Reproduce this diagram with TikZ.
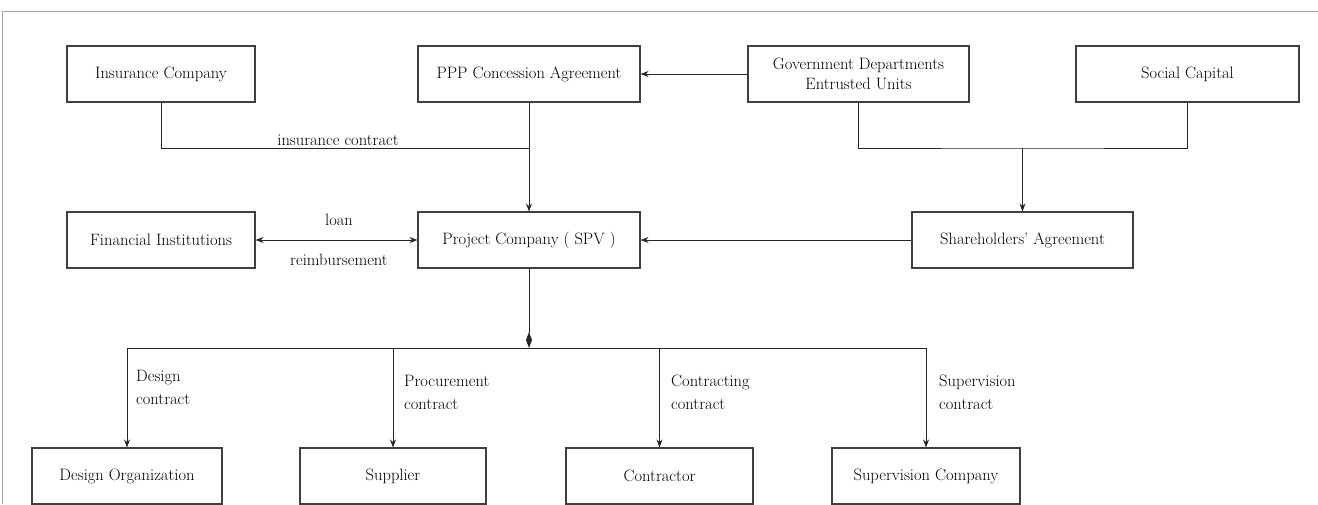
\documentclass[tikz,border=0pt]{standalone}
\usetikzlibrary{arrows.meta}
\begin{document}
\begin{tikzpicture}[x=1pt,y=-1pt,
  box/.style={draw=black!75,line width=1.1pt,rectangle,inner sep=0pt,align=center,font=\fontsize{16.5}{20}\selectfont,text=black},
  conn/.style={draw=black!85,line width=1pt},
  arr/.style={conn,-{Stealth[length=8pt,width=6pt]}},
  lab/.style={font=\fontsize{16.5}{23}\selectfont,text=black,inner sep=0pt},
  llab/.style={lab,align=left,anchor=north west}]
\useasboundingbox (0,0) rectangle (1318,504);
\draw[black!35,line width=1pt] (2,504) -- (2,11) -- (1318,11);
% top row
\node[box,minimum width=188pt,minimum height=56pt] (ins) at (161,74) {Insurance Company};
\node[box,minimum width=222pt,minimum height=56pt] (ppp) at (529,74) {PPP Concession Agreement};
\node[box,minimum width=221pt,minimum height=56pt] (gov) at (858.5,74) {Government Departments\\Entrusted Units};
\node[box,minimum width=223pt,minimum height=56pt] (soc) at (1187.5,74) {Social Capital};
% middle row
\node[box,minimum width=188pt,minimum height=56pt] (fin) at (161,240) {Financial Institutions};
\node[box,minimum width=222pt,minimum height=56pt] (spv) at (529,240) {Project Company ( SPV )};
\node[box,minimum width=221pt,minimum height=56pt] (sha) at (1022.5,240) {Shareholders' Agreement};
% bottom row
\node[box,minimum width=190pt,minimum height=56pt] (des) at (127,476) {Design Organization};
\node[box,minimum width=186pt,minimum height=56pt] (sup) at (393,476) {Supplier};
\node[box,minimum width=187pt,minimum height=56pt] (con) at (659.5,476) {Contractor};
\node[box,minimum width=188pt,minimum height=56pt] (svc) at (926,476) {Supervision Company};
% coordinates
\coordinate (j1) at (529,148);
\coordinate (j2) at (1022.5,148);
\coordinate (j3) at (529,348);
% insurance
\draw[conn] (ins.south) |- (j1);
\draw[arr] (ppp.south) -- (spv.north);
\node[lab] (tins) at (338,140) {insurance contract};
% gov -> ppp
\draw[arr] (gov.west) -- (ppp.east);
% gov & social -> shareholders
\draw[conn] (gov.south) |- (j2) -| (soc.south);
\draw[arr] (j2) -- (sha.north);
\draw[arr] (sha.west) -- (spv.east);
% finance
\draw[conn,{Stealth[length=8pt,width=6pt]}-{Stealth[length=8pt,width=6pt]}] (fin.east) -- (spv.west);
\node[lab] (tloan) at (339,220) {loan};
\node[lab] (treim) at (339,260) {reimbursement};
% spv down
\draw[conn,-{Diamond[length=16pt,width=6pt]}] (spv.south) -- (j3);
\draw[conn] (des.north |- j3) -- (svc.north |- j3);
\draw[arr] (des.north |- j3) -- (des.north);
\draw[arr] (sup.north |- j3) -- (sup.north);
\draw[arr] (con.north |- j3) -- (con.north);
\draw[arr] (svc.north |- j3) -- (svc.north);
\node[llab] (tdes) at (136,370) {Design\\contract};
\node[llab] (tsup) at (404,375) {Procurement\\contract};
\node[llab] (tcon) at (671,375) {Contracting\\contract};
\node[llab] (tsvc) at (939,375) {Supervision\\contract};
\end{tikzpicture}
\end{document}
